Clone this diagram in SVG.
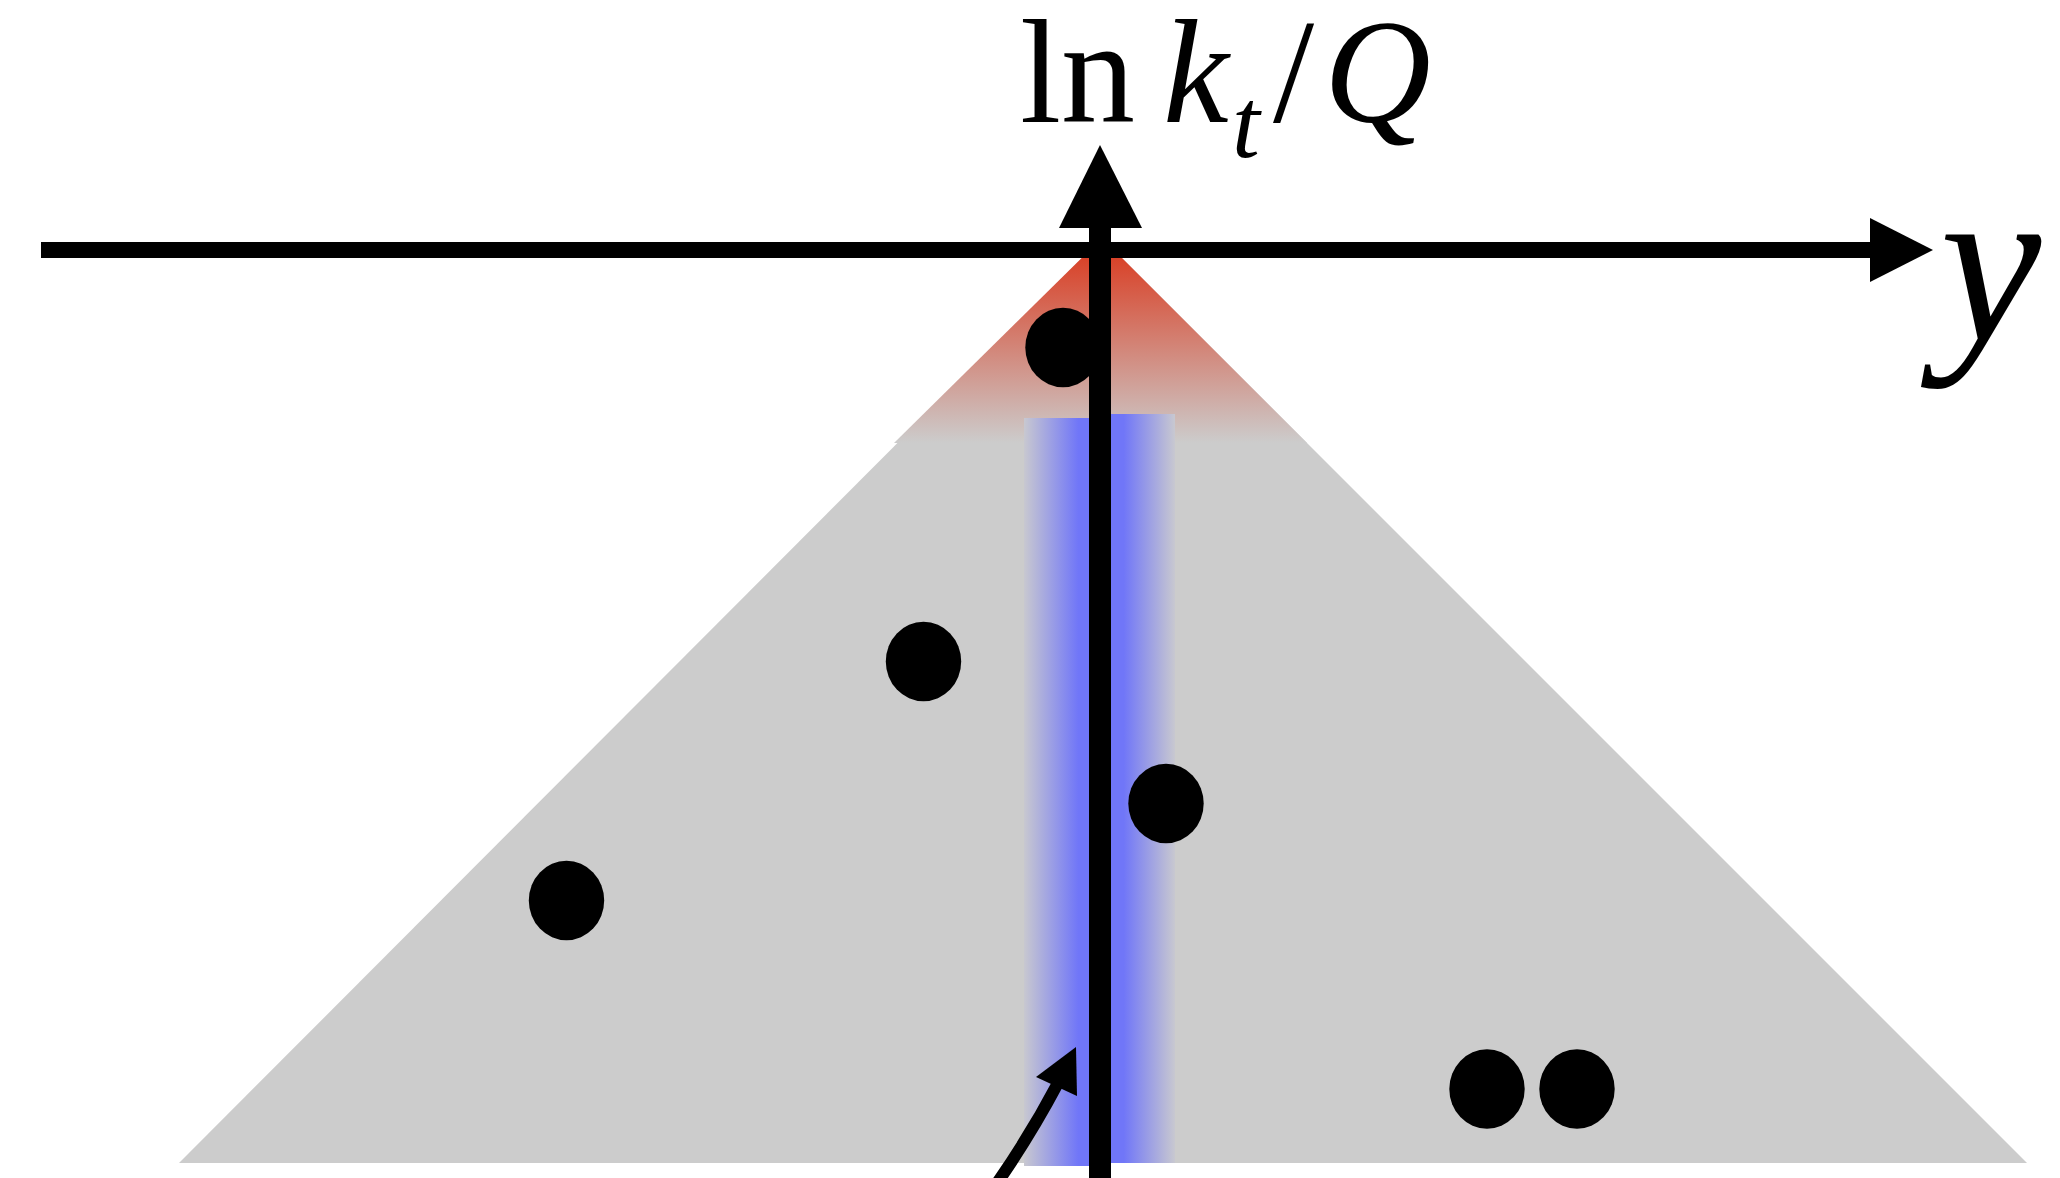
<svg xmlns="http://www.w3.org/2000/svg" width="2060" height="1178" viewBox="0 0 2060 1178">
  <style>
    .dot { fill: #000000; }
    .axis { fill: #000000; }
    .lbl { font-family: "Liberation Serif", "Times New Roman", serif; fill: #000000; }
    .it { font-style: italic; }
  </style>
  <defs>
    <linearGradient id="redGrad" gradientUnits="userSpaceOnUse" x1="0" y1="238" x2="0" y2="443">
      <stop offset="0" stop-color="#da3418"/>
      <stop offset="1" stop-color="#cccccc"/>
    </linearGradient>
    <linearGradient id="blueGrad" gradientUnits="userSpaceOnUse" x1="1024" y1="0" x2="1175" y2="0">
      <stop offset="0" stop-color="#c8c8d0"/>
      <stop offset="0.36" stop-color="#7076f8"/>
      <stop offset="0.66" stop-color="#7076f8"/>
      <stop offset="1" stop-color="#c8c8d0"/>
    </linearGradient>
  </defs>
  <rect width="2060" height="1178" fill="#ffffff"/>

  <g id="region">
    <polygon points="1102,238 179,1163 2027,1163" fill="#cccccc"/>
    <polygon points="1102,238 894,443 1307,443" fill="url(#redGrad)"/>
    <rect x="1024" y="418" width="66" height="748" fill="url(#blueGrad)"/>
    <rect x="1110" y="414" width="65" height="749" fill="url(#blueGrad)"/>
  </g>

  <g id="emissions">
    <ellipse id="dot1" class="dot" cx="1063" cy="347.5" rx="37.7" ry="39.7"/>
    <ellipse id="dot2" class="dot" cx="923.5" cy="661.5" rx="37.7" ry="39.7"/>
    <ellipse id="dot3" class="dot" cx="1166" cy="803.5" rx="37.7" ry="39.7"/>
    <ellipse id="dot4" class="dot" cx="566.5" cy="900.5" rx="37.7" ry="39.7"/>
    <ellipse id="dot5" class="dot" cx="1487" cy="1089" rx="37.7" ry="39.7"/>
    <ellipse id="dot6" class="dot" cx="1577" cy="1089" rx="37.7" ry="39.7"/>
  </g>

  <g id="connectors">
    <rect class="axis" x="41" y="242" width="1834" height="16"/>
    <polygon class="axis" points="1870,218 1933,250 1870,282"/>
    <rect class="axis" x="1089" y="224" width="22" height="954"/>
    <polygon class="axis" points="1059,228 1100,145 1142,228"/>
    <path d="M 995 1186 Q 1030 1136 1058 1083" fill="none" stroke="#000000" stroke-width="12"/>
    <polygon class="axis" points="1076,1047 1036,1077 1077,1096"/>
  </g>

  <g id="labels">
    <text class="lbl" x="1020" y="122" font-size="148">ln</text>
    <text class="lbl it" x="1163" y="122" font-size="148">k</text>
    <text class="lbl it" x="1232" y="157" font-size="100">t</text>
    <text class="lbl" x="1273" y="122" font-size="148">/</text>
    <text class="lbl it" x="1324" y="122" font-size="148">Q</text>
    <text class="lbl it" x="1940" y="340" font-size="228">y</text>
  </g>
</svg>
